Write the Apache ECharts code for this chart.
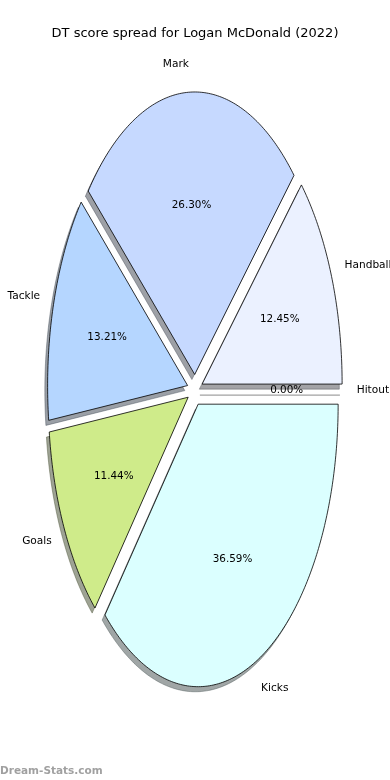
<!DOCTYPE html>
<html><head><meta charset="utf-8">
<script src="https://cdn.jsdelivr.net/npm/echarts@6/dist/echarts.min.js"></script>
<style>html,body{margin:0;padding:0;background:#fff}#c{width:390px;height:780px}</style>
</head><body><div id="c"></div>
<script>
// ---- data ----
const categories = ['Handball', 'Mark', 'Tackle', 'Goals', 'Kicks', 'Hitout'];
const shares = [12.45, 26.30, 13.21, 11.44, 36.59, 0.00];
const pctLabels = ['12.45%', '26.30%', '13.21%', '11.44%', '36.59%', '0.00%'];
const titleText = 'DT score spread for Logan McDonald (2022)';
const watermark = 'Dream-Stats.com';

// ---- styles ----
const sliceColors = ['#EBF1FF', '#C6D9FF', '#B5D6FF', '#CFEB8A', '#DBFFFF', '#E8E8E8'];
const EXPLODE = 0.055, LABEL_DIST = 1.1, PCT_DIST = 0.6;
const SHADOW_DX = -0.02, SHADOW_DY = -0.018;
const FONT = '"DejaVu Sans", sans-serif';

const total = shares.reduce((a, b) => a + b, 0);
const starts = [], ends = [];
let acc = 0;
shares.forEach(v => { starts.push(acc / total * 2 * Math.PI); acc += v; ends.push(acc / total * 2 * Math.PI); });

function shadowColor(hex) {
  const r = parseInt(hex.slice(1, 3), 16), g = parseInt(hex.slice(3, 5), 16), b = parseInt(hex.slice(5, 7), 16);
  return 'rgba(' + Math.round(r * 0.3) + ',' + Math.round(g * 0.3) + ',' + Math.round(b * 0.3) + ',0.5)';
}

function wedge(i, api, ox, oy) {
  const t1 = starts[i], t2 = ends[i], tm = (t1 + t2) / 2;
  const ex = EXPLODE * Math.cos(tm) + ox, ey = EXPLODE * Math.sin(tm) + oy;
  const pts = [api.coord([ex, ey])];
  const n = Math.max(1, Math.ceil((t2 - t1) / (Math.PI / 240)));
  for (let k = 0; k <= n; k++) {
    const t = t1 + (t2 - t1) * k / n;
    pts.push(api.coord([ex + Math.cos(t), ey + Math.sin(t)]));
  }
  return pts;
}

const seriesData = categories.map((c, i) => [i, shares[i]]);

const option = {
  animation: false,
  backgroundColor: '#ffffff',
  title: {
    text: titleText, left: 'center', top: 22,
    textStyle: { fontFamily: FONT, fontSize: 13, fontWeight: 'normal', color: '#000' }
  },
  grid: { left: 55, width: 280, top: 107.5, height: 565 },
  xAxis: { type: 'value', min: -1, max: 1, show: false },
  yAxis: { type: 'value', min: -1, max: 1, show: false },
  graphic: [{
    type: 'text', left: 0, bottom: 3,
    style: { text: watermark, font: 'bold 10.5px ' + FONT, fill: 'rgba(120,120,120,0.7)' }
  }],
  series: [
    {
      type: 'custom', name: 'shadow', z: 1, clip: false, data: seriesData,
      renderItem: function (params, api) {
        const i = params.dataIndex;
        const pts = wedge(i, api, SHADOW_DX, SHADOW_DY);
        const col = shadowColor(sliceColors[i]);
        if (shares[i] === 0) {
          return { type: 'polyline', shape: { points: [pts[0], pts[1]] }, style: { stroke: col, lineWidth: 1.2, fill: null } };
        }
        return { type: 'polygon', shape: { points: pts }, style: { fill: col, stroke: col, lineWidth: 0.8 } };
      }
    },
    {
      type: 'custom', name: 'DT score', z: 2, clip: false, data: seriesData,
      renderItem: function (params, api) {
        const i = params.dataIndex;
        const tm = (starts[i] + ends[i]) / 2;
        const cx = Math.cos(tm), cy = Math.sin(tm);
        const children = [];
        if (shares[i] > 0) {
          children.push({ type: 'polygon', shape: { points: wedge(i, api, 0, 0) },
            style: { fill: sliceColors[i], stroke: '#000', lineWidth: 0.8 } });
        }
        const lp = api.coord([(EXPLODE + LABEL_DIST) * cx, (EXPLODE + LABEL_DIST) * cy]);
        children.push({ type: 'text', z2: 10, style: { text: categories[i], x: lp[0], y: lp[1],
          align: cx > 0 ? 'left' : 'right', verticalAlign: 'middle', font: '10.6px ' + FONT, fill: '#000' } });
        const pp = api.coord([(EXPLODE + PCT_DIST) * cx, (EXPLODE + PCT_DIST) * cy]);
        children.push({ type: 'text', z2: 10, style: { text: pctLabels[i], x: pp[0], y: pp[1],
          align: 'center', verticalAlign: 'middle', font: '10.4px ' + FONT, fill: '#000' } });
        return { type: 'group', children: children };
      }
    }
  ]
};

const chart = echarts.init(document.getElementById('c'), null, { renderer: 'canvas' });
chart.setOption(option);
</script>
</body></html>
